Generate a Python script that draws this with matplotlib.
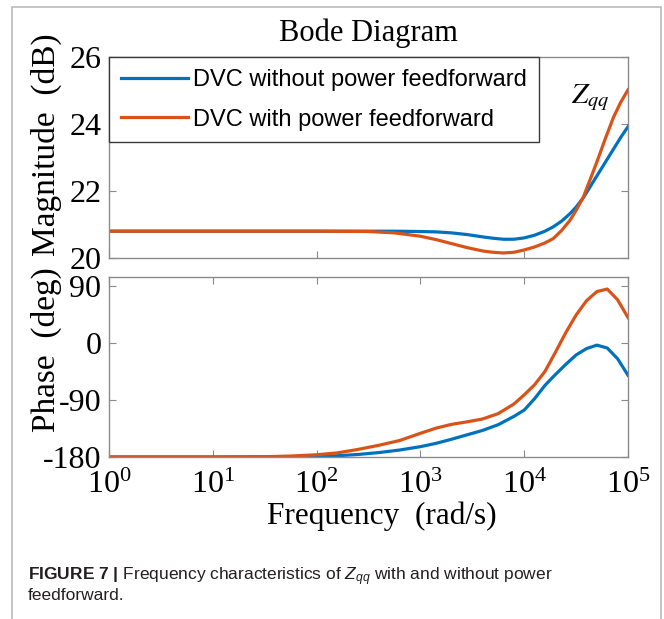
import matplotlib
matplotlib.use("Agg")
import matplotlib.pyplot as plt
from matplotlib.patches import Rectangle

plt.rcParams["font.family"] = "Liberation Serif"
plt.rcParams["axes.unicode_minus"] = False
# caption uses the "custom" math set (sans), the chart text uses stix
plt.rcParams["mathtext.fontset"] = "custom"
plt.rcParams["mathtext.rm"] = "Liberation Sans"
plt.rcParams["mathtext.it"] = "Liberation Sans:italic"
plt.rcParams["mathtext.bf"] = "Liberation Sans:bold"

# magnitude (dB)
mag_freq = [1, 10, 100, 316, 562, 1000, 1413, 1995, 2818, 3981, 5012, 6310,
            7943, 10000, 12590, 15850, 19050, 22910, 27540, 31620, 37150,
            43650, 51290, 60260, 72440, 85110, 100000]
mag_without = [20.8, 20.8, 20.8, 20.8, 20.8, 20.79, 20.78, 20.75, 20.7, 20.63,
               20.59, 20.56, 20.56, 20.6, 20.68, 20.8, 20.93, 21.1, 21.32,
               21.52, 21.8, 22.15, 22.5, 22.85, 23.25, 23.6, 23.92]
mag_with = [20.8, 20.8, 20.8, 20.79, 20.75, 20.65, 20.55, 20.43, 20.31, 20.21,
            20.17, 20.15, 20.17, 20.24, 20.33, 20.45, 20.58, 20.82, 21.12,
            21.42, 21.82, 22.38, 22.95, 23.55, 24.2, 24.65, 25.02]

# phase (deg)
ph_freq = [1, 10, 31.6, 56.2, 100, 158.5, 251.2, 398.1, 631, 1000, 1413, 1995,
           2818, 3981, 5623, 7943, 10000, 12590, 15850, 19950, 25120, 31620,
           39810, 50120, 63100, 79430, 100000]
ph_without = [-180, -180, -179.8, -179.5, -179, -178, -176, -173, -169, -163.7,
              -158.5, -152, -145, -138, -129, -116, -106, -88, -67, -50, -34,
              -19, -9, -3.5, -8, -25, -51]
ph_with = [-180, -180, -179.6, -178.5, -176.5, -173.5, -168, -161.5, -154,
           -142.6, -134.5, -128.5, -124.5, -120, -111.5, -96.5, -82, -66, -45,
           -15, 16, 44, 66.5, 81, 85, 68, 40]

labels = ["DVC without power feedforward", "DVC with power feedforward"]
BLUE = "#0072BD"
ORANGE = "#D95319"
AX_GRAY = "#8a8a8a"

W, H = 664, 619
fig = plt.figure(figsize=(W / 100, H / 100), dpi=100)

# outer figure frame (open at the bottom)
fig.patches.append(Rectangle((12 / W, -0.05), 649 / W, 1.05 - 7 / H,
                             transform=fig.transFigure, fill=False,
                             edgecolor="#b4b4b4", linewidth=1.1))

ax1 = fig.add_axes([109 / W, 1 - 258 / H, 519 / W, 201 / H])
ax2 = fig.add_axes([109 / W, 1 - 457 / H, 519 / W, 180 / H])

ax1.plot(mag_freq, mag_without, color=BLUE, lw=2.3, label=labels[0])
ax1.plot(mag_freq, mag_with, color=ORANGE, lw=2.3, label=labels[1])
ax2.plot(ph_freq, ph_without, color=BLUE, lw=2.3)
ax2.plot(ph_freq, ph_with, color=ORANGE, lw=2.3)

for ax in (ax1, ax2):
    ax.set_xscale("log")
    ax.set_xlim(1, 1e5)
    for s in ax.spines.values():
        s.set_color(AX_GRAY)
        s.set_linewidth(1.0)
    ax.tick_params(which="both", direction="in", top=True, right=True,
                   color=AX_GRAY, labelsize=23, labelcolor="black")
    ax.tick_params(which="major", length=5, width=0.8)
    ax.tick_params(which="minor", length=2.5, width=0.8)
    ax.tick_params(axis="y", pad=5.5)

ax1.set_ylim(20, 26)
ax1.set_yticks([20, 22, 24, 26])
ax1.tick_params(labelbottom=False)
ax2.set_ylim(-180, 104)
ax2.set_yticks([-180, -90, 0, 90])
ax2.set_xticks([1, 10, 100, 1000, 10000, 100000])
ax2.tick_params(axis="x", pad=10)

leg = ax1.legend(loc="upper left", bbox_to_anchor=(0, 1), borderaxespad=0,
                 prop={"family": "Liberation Sans", "size": 17},
                 handlelength=2.85, handletextpad=0.2, borderpad=0.5,
                 labelspacing=0.75, fancybox=False, framealpha=1)
leg.get_frame().set_edgecolor("#3a3a3a")
leg.get_frame().set_linewidth(1.0)

ax1.text((571 - 109) / 519, (258 - 103) / 201, r"$Z_{qq}$", transform=ax1.transAxes,
         fontsize=21, math_fontfamily="stix", va="baseline", ha="left")

fig.text(368 / W, 1 - 33 / H, "Bode Diagram", fontsize=22, ha="center", va="center")
fig.text(46 / W, 1 - 145 / H, "Magnitude  (dB)", fontsize=24, rotation=90,
         ha="center", va="center")
fig.text(46 / W, 1 - 350 / H, "Phase  (deg)", fontsize=24, rotation=90,
         ha="center", va="center")
fig.text(382 / W, 1 - 516 / H, "Frequency  (rad/s)", fontsize=22.5,
         ha="center", va="center")

fig.text(28 / W, 1 - 580 / H,
         r"$\mathbf{FIGURE\ 7\ |}$ Frequency characteristics of $Z_{qq}$ with and without power",
         family="Liberation Sans", math_fontfamily="custom", fontsize=12.5,
         color="#231f20", va="baseline")
fig.text(28 / W, 1 - 600 / H, "feedforward.", family="Liberation Sans",
         fontsize=12.5, color="#231f20", va="baseline")

fig.savefig("out.png", dpi=100)
